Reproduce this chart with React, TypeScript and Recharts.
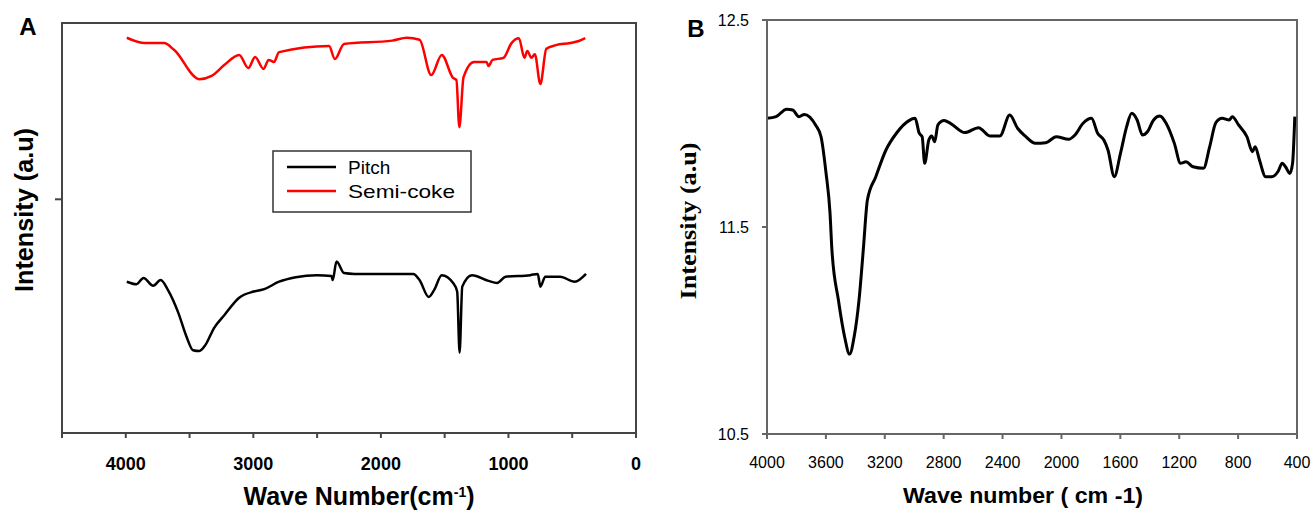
import React from "react";
import { LineChart, Line, XAxis, YAxis, ReferenceArea, Legend } from "recharts";

// Panel A: FTIR of pitch and semi-coke (arbitrary intensity units)
const pitchWn = [3992, 3916, 3861, 3785, 3726, 3670, 3588, 3523, 3473, 3423, 3375, 3308, 3226, 3111, 2996, 2914, 2798, 2667, 2502, 2387, 2378, 2348, 2289, 2207, 1746, 1697, 1625, 1582, 1523, 1434, 1402, 1383, 1362, 1286, 1156, 1089, 1023, 828, 770, 750, 711, 595, 480, 392];
const pitchVal = [36.9, 36.3, 37.8, 35.9, 37.3, 34.9, 29.3, 23.4, 20.2, 20.0, 21.5, 25.6, 28.8, 33.0, 34.5, 35.1, 36.9, 38.0, 38.5, 38.3, 37.3, 41.8, 39.0, 38.8, 38.8, 37.3, 33.2, 34.9, 38.5, 36.6, 34.5, 19.6, 35.7, 38.5, 37.1, 36.6, 38.1, 38.5, 38.8, 35.7, 38.1, 38.1, 36.9, 38.8];

const cokeWn = [3992, 3850, 3700, 3620, 3423, 3327, 3226, 3111, 3039, 2986, 2920, 2880, 2838, 2798, 2406, 2361, 2289, 1911, 1797, 1697, 1605, 1523, 1434, 1408, 1385, 1352, 1270, 1172, 1156, 1125, 1039, 976, 918, 875, 852, 820, 793, 750, 703, 628, 516, 448, 398];
const cokeVal = [96.4, 95.1, 95.1, 93.4, 86.3, 87.1, 89.8, 92.2, 89.0, 91.7, 88.8, 91.0, 90.5, 92.9, 94.4, 91.2, 94.9, 95.7, 96.4, 95.9, 87.3, 92.2, 86.6, 86.1, 74.6, 86.8, 90.5, 90.5, 89.5, 91.0, 91.5, 95.1, 96.3, 91.5, 93.2, 91.5, 92.4, 85.1, 93.7, 94.6, 95.1, 95.6, 96.3];

// Panel B: single spectrum
const specWn = [4000, 3938, 3867, 3825, 3783, 3746, 3670, 3633, 3599, 3572, 3559, 3515, 3473, 3439, 3408, 3375, 3346, 3318, 3261, 3192, 3121, 3036, 2994, 2966, 2946, 2929, 2901, 2881, 2861, 2839, 2797, 2754, 2656, 2563, 2486, 2418, 2351, 2298, 2247, 2177, 2106, 2036, 1951, 1909, 1853, 1796, 1754, 1712, 1684, 1641, 1599, 1557, 1523, 1486, 1450, 1416, 1374, 1331, 1289, 1233, 1191, 1154, 1106, 1035, 993, 951, 909, 861, 839, 797, 740, 703, 684, 655, 613, 571, 529, 500, 478, 449, 430, 415];
const specVal = [12.025, 12.033, 12.069, 12.065, 12.033, 12.044, 11.993, 11.936, 11.761, 11.568, 11.389, 11.147, 10.97, 10.886, 10.97, 11.147, 11.389, 11.63, 11.743, 11.872, 11.953, 12.014, 12.025, 11.953, 11.936, 11.808, 11.92, 11.94, 11.912, 11.993, 12.014, 12.001, 11.956, 11.98, 11.94, 11.94, 12.041, 11.977, 11.94, 11.904, 11.907, 11.936, 11.924, 11.944, 12.001, 12.025, 11.953, 11.92, 11.872, 11.743, 11.856, 11.985, 12.049, 12.017, 11.944, 11.96, 12.017, 12.036, 12.001, 11.904, 11.808, 11.815, 11.791, 11.784, 11.888, 12.004, 12.025, 12.017, 12.033, 11.993, 11.936, 11.864, 11.888, 11.824, 11.743, 11.743, 11.768, 11.808, 11.791, 11.759, 11.808, 12.033];

const ticksA = [4500, 4000, 3500, 3000, 2500, 2000, 1500, 1000, 500, 0];
const ticksBx = [4000, 3600, 3200, 2800, 2400, 2000, 1600, 1200, 800, 400];
const ticksBy = [10.5, 11.5, 12.5];

const pitch = pitchWn.map((wn, i) => ({ wn, v: pitchVal[i] }));
const coke = cokeWn.map((wn, i) => ({ wn, v: cokeVal[i] }));
const spec = specWn.map((wn, i) => ({ wn, v: specVal[i] }));

const sans = "'Liberation Sans', Arial, sans-serif";
const serif = "'Liberation Serif', 'Times New Roman', serif";

function LegendBox() {
    return (
        <svg width={200} height={63}>
            <rect x={1} y={1} width={198} height={61} fill="#fff" stroke="#333" strokeWidth={1.5} />
            <line x1={15} x2={64} y1={17} y2={17} stroke="#000" strokeWidth={2.5} />
            <line x1={15} x2={64} y1={41} y2={41} stroke="#ff0000" strokeWidth={2.5} />
            <text x={76} y={24} fontSize={19} fontFamily={sans} fill="#000">Pitch</text>
            <text x={76} y={48} fontSize={19} fontFamily={sans} fill="#000" textLength={107} lengthAdjust="spacingAndGlyphs">Semi-coke</text>
        </svg>
    );
}

export default function App() {
    return (
        <div style={{ position: "absolute", left: 0, top: 0, width: 1311, height: 511, background: "#fff" }}>
            <div style={{ position: "absolute", left: 0, top: 0 }}>
                <LineChart width={660} height={511} margin={{ top: 23, right: 24, bottom: 0, left: 0 }}>
                    <XAxis
                        dataKey="wn"
                        type="number"
                        domain={[0, 4500]}
                        reversed
                        ticks={ticksA}
                        interval={0}
                        tickFormatter={(v) => (v % 1000 === 0 ? String(v) : "")}
                        height={78}
                        tickSize={5}
                        tickMargin={19}
                        stroke="#444"
                        strokeWidth={2}
                        tick={{ fontSize: 18, fontWeight: 700, fill: "#000", fontFamily: sans }}
                    />
                    <YAxis
                        type="number"
                        domain={[0, 100]}
                        ticks={[57]}
                        tickFormatter={() => ""}
                        width={62}
                        tickSize={7}
                        stroke="#444"
                        strokeWidth={2}
                    />
                    <ReferenceArea x1={4500} x2={0} y1={0} y2={100} fill="none" stroke="#444" strokeWidth={2} />
                    <Line data={pitch} dataKey="v" name="Pitch" type="monotone" stroke="#000" strokeWidth={2.5} dot={false} isAnimationActive={false} />
                    <Line data={coke} dataKey="v" name="Semi-coke" type="monotone" stroke="#ff0000" strokeWidth={2.5} dot={false} isAnimationActive={false} />
                    <Legend
                        layout="vertical"
                        align="center"
                        verticalAlign="middle"
                        content={() => <LegendBox />}
                        wrapperStyle={{ position: "absolute", left: 272, top: 150, width: 200, height: 63 }}
                    />
                </LineChart>
            </div>
            <div style={{ position: "absolute", left: 660, top: 0 }}>
                <LineChart width={651} height={511} margin={{ top: 20, right: 14, bottom: 0, left: 0 }}>
                    <XAxis
                        dataKey="wn"
                        type="number"
                        domain={[400, 4000]}
                        reversed
                        ticks={ticksBx}
                        interval={0}
                        height={77}
                        tickSize={5}
                        tickMargin={18}
                        stroke="#666"
                        strokeWidth={2}
                        tick={{ fontSize: 16, fill: "#000", fontFamily: sans }}
                    />
                    <YAxis
                        type="number"
                        domain={[10.5, 12.5]}
                        ticks={ticksBy}
                        interval={0}
                        tickFormatter={(v) => v.toFixed(1)}
                        width={107}
                        tickSize={5}
                        tickMargin={13}
                        stroke="#666"
                        strokeWidth={2}
                        tick={{ fontSize: 16, fill: "#000", fontFamily: sans }}
                    />
                    <ReferenceArea x1={4000} x2={400} y1={10.5} y2={12.5} fill="none" stroke="#666" strokeWidth={2} />
                    <Line data={spec} dataKey="v" type="monotone" stroke="#000" strokeWidth={3} dot={false} isAnimationActive={false} />
                </LineChart>
            </div>
            <svg width={1311} height={511} style={{ position: "absolute", left: 0, top: 0, pointerEvents: "none" }}>
                <text x={28} y={35} textAnchor="middle" fontSize={24} fontWeight={700} fontFamily={sans}>A</text>
                <text x={696} y={37} textAnchor="middle" fontSize={24} fontWeight={700} fontFamily={sans}>B</text>
                <text transform="translate(33,210) rotate(-90)" textAnchor="middle" fontSize={25} fontWeight={700} fontFamily={sans} textLength={164} lengthAdjust="spacingAndGlyphs">Intensity (a.u)</text>
                <text x={359} y={505} textAnchor="middle" fontSize={25} fontWeight={700} fontFamily={sans}>
                    Wave Number(cm<tspan fontSize={14} baselineShift="super">-1</tspan>)
                </text>
                <text x={1023} y={503} textAnchor="middle" fontSize={22} fontWeight={700} fontFamily={sans} textLength={240} lengthAdjust="spacingAndGlyphs">Wave  number ( cm -1)</text>
                <text transform="translate(696,221) rotate(-90)" textAnchor="middle" fontSize={23} fontWeight={700} fontFamily={serif} textLength={157} lengthAdjust="spacingAndGlyphs">Intensity (a.u)</text>
            </svg>
        </div>
    );
}
